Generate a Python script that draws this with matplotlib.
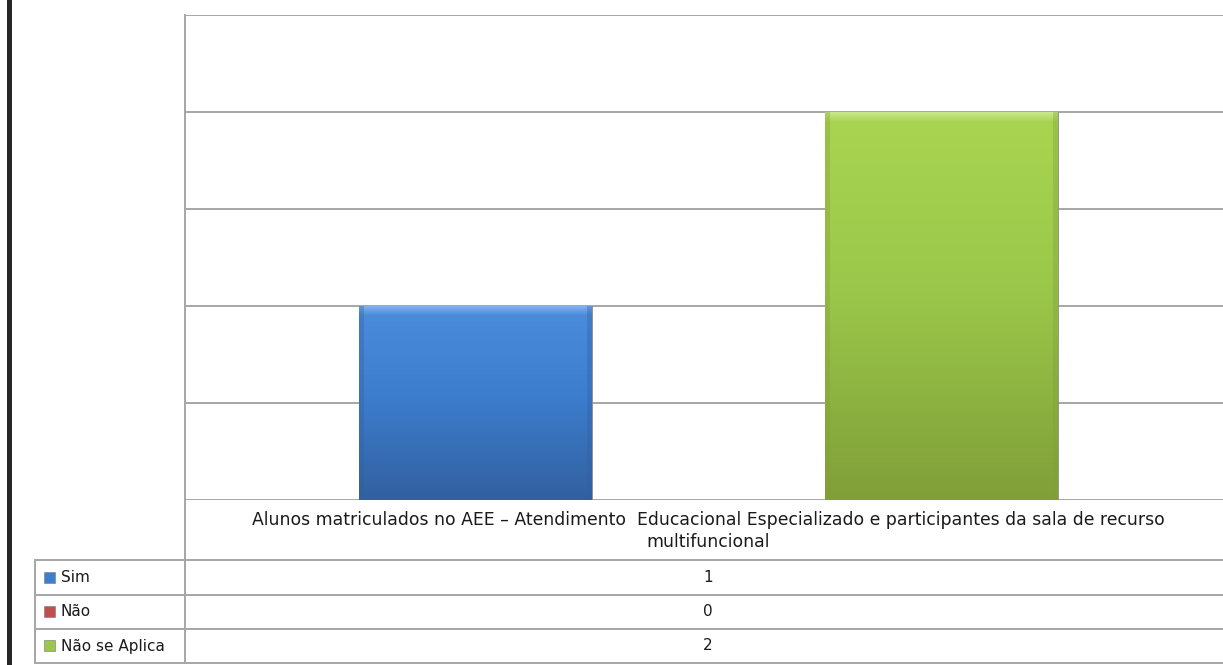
import numpy as np
import matplotlib
matplotlib.use("Agg")
import matplotlib.pyplot as plt
from matplotlib.colors import LinearSegmentedColormap
from matplotlib.lines import Line2D
from matplotlib.patches import Rectangle

category = "Alunos matriculados no AEE \u2013 Atendimento  Educacional Especializado e participantes da sala de recurso\nmultifuncional"
series = ["Sim", "Não", "Não se Aplica"]
values = [1, 0, 2]
colors = ["#3D7ECF", "#C0504D", "#9BC84A"]
grad_colors = [
    ("#32609F", "#3D7ECF", "#4A8BDA", "#7FB3EC"),
    ("#9E3B38", "#C0504D", "#CF5D5A", "#E58A88"),
    ("#809F38", "#9BC84A", "#A8D451", "#C9E88A"),
]

W, H = 1223, 665
fig = plt.figure(figsize=(W / 100, H / 100), dpi=100)


def fx(px):
    return px / W


def fy(py):
    return 1 - py / H


# plot area (right edge runs past the picture, as in the cropped reference)
ax = fig.add_axes([fx(185), fy(500), fx(1232 - 185), fy(15) - fy(500)])
ax.set_ylim(0, 2.5)
ax.set_yticks(np.arange(0, 2.51, 0.5))
ax.grid(axis="y", color="#A6A6A6", linewidth=1.4)
ax.set_axisbelow(True)
ax.tick_params(left=False, bottom=False, labelleft=False, labelbottom=False)
for s in ["right", "bottom", "top"]:
    ax.spines[s].set_visible(False)
ax.spines["left"].set_color("#A6A6A6")
ax.spines["left"].set_linewidth(1.4)

bw = 233 / 1047
offsets = [-bw, 0, bw]
bars = ax.bar(offsets, values, width=bw, color=colors, edgecolor="#8C8C8C",
              linewidth=0.6, zorder=2)
ax.set_xlim(-0.5, 0.5)

plot_h_px = 485
for bar, gc in zip(bars, grad_colors):
    h = bar.get_height()
    if h == 0:
        continue
    hpx = h / 2.5 * plot_h_px
    bev = 1 - 9 / hpx
    cmap = LinearSegmentedColormap.from_list(
        "g", [(0, gc[0]), (0.55, gc[1]), (bev, gc[2]), (1, gc[3])])
    grad = np.linspace(0, 1, 512).reshape(-1, 1)
    x0 = bar.get_x()
    im = ax.imshow(grad, extent=[x0, x0 + bar.get_width(), 0, h], origin="lower",
                   aspect="auto", cmap=cmap, zorder=2.5)
    im.set_clip_path(bar)
    # darker side shading
    for xs in [x0, x0 + bar.get_width() - bw * 0.02]:
        ax.add_patch(Rectangle((xs, 0), bw * 0.02, h, color=gc[0], alpha=0.35,
                               lw=0, zorder=2.6))
ax.set_xlim(-0.5, 0.5)
ax.set_ylim(0, 2.5)

# data table grid
lc = "#A6A6A6"


def hline(y, x0, x1):
    fig.add_artist(Line2D([fx(x0), fx(x1)], [fy(y), fy(y)], color=lc, lw=1.4,
                          transform=fig.transFigure))


def vline(x, y0, y1):
    fig.add_artist(Line2D([fx(x), fx(x)], [fy(y0), fy(y1)], color=lc, lw=1.4,
                          transform=fig.transFigure))


vline(185, 500, 663)
vline(35, 560, 663)
for y in [560, 595, 629, 663]:
    hline(y, 35, 1240)

fig.text(fx(708), fy(531), category, ha="center", va="center", fontsize=12.4,
         family="DejaVu Sans", linespacing=1.3, color="#1A1A1A")

row_y = [577.5, 612, 646]
for name, val, col, y in zip(series, values, colors, row_y):
    fig.add_artist(Rectangle((fx(44), fy(y + 5)), fx(11), fy(y - 6) - fy(y + 5),
                             facecolor=col, edgecolor="#777777", lw=0.4,
                             transform=fig.transFigure))
    fig.text(fx(61), fy(y), name, ha="left", va="center", fontsize=11,
             family="DejaVu Sans", color="#1A1A1A")
    fig.text(fx(708), fy(y), str(val), ha="center", va="center", fontsize=11,
             family="DejaVu Sans", color="#1A1A1A")

# dark frame edge at the left
fig.add_artist(Rectangle((fx(7), 0), fx(5), 1, facecolor="#262626", lw=0,
                         transform=fig.transFigure))

fig.savefig("out.png", dpi=100)
